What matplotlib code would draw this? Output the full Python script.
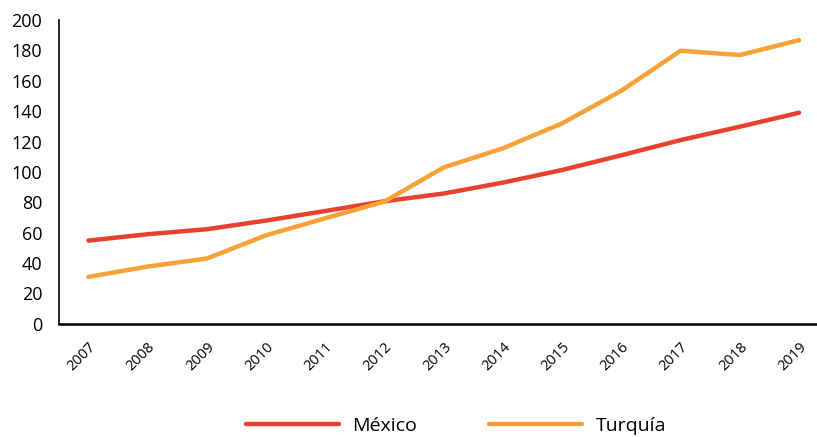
import matplotlib
matplotlib.use("Agg")
import matplotlib.pyplot as plt

years = ["2007", "2008", "2009", "2010", "2011", "2012", "2013",
         "2014", "2015", "2016", "2017", "2018", "2019"]
mexico = [54.8, 59.0, 62.3, 68.0, 74.3, 80.7, 85.8, 93.0, 101.3, 111.0, 121.0, 129.8, 139.0]
turquia = [30.9, 37.7, 43.0, 58.3, 69.5, 80.5, 103.0, 115.6, 132.0, 153.5, 179.8, 177.0, 186.8]
yticks = [0, 20, 40, 60, 80, 100, 120, 140, 160, 180, 200]

plt.rcParams['font.family'] = ['Open Sans', 'DejaVu Sans']

fig = plt.figure(figsize=(8.17, 4.37), dpi=100)
ax = fig.add_axes([0.072, 0.259, 0.935, 0.695])

x = list(range(len(years)))
ax.plot(x, mexico, color="#E8412F", lw=3.2, label="México", solid_capstyle="round")
ax.plot(x, turquia, color="#F9A037", lw=3.2, label="Turquía", solid_capstyle="round")

ax.set_xlim(-0.5, 12.4)
ax.set_ylim(0, 200)
ax.set_yticks(yticks)
ax.set_yticklabels([str(v) for v in yticks], fontsize=13)
ax.set_xticks(x)
ax.set_xticklabels(years, rotation=45, fontsize=10.5, ha="right", va="top",
                   rotation_mode="anchor")
ax.tick_params(axis="both", length=0)
ax.tick_params(axis="y", pad=12)
ax.tick_params(axis="x", pad=11)
for s in ["top", "right"]:
    ax.spines[s].set_visible(False)
ax.spines["left"].set_linewidth(1.2)
ax.spines["bottom"].set_linewidth(1.8)

fig.legend(loc="lower center", bbox_to_anchor=(0.558, -0.036), ncol=2, frameon=False,
           fontsize=14, handlelength=4.8, columnspacing=3.7, handletextpad=0.67)

fig.savefig("out.png", dpi=100)
